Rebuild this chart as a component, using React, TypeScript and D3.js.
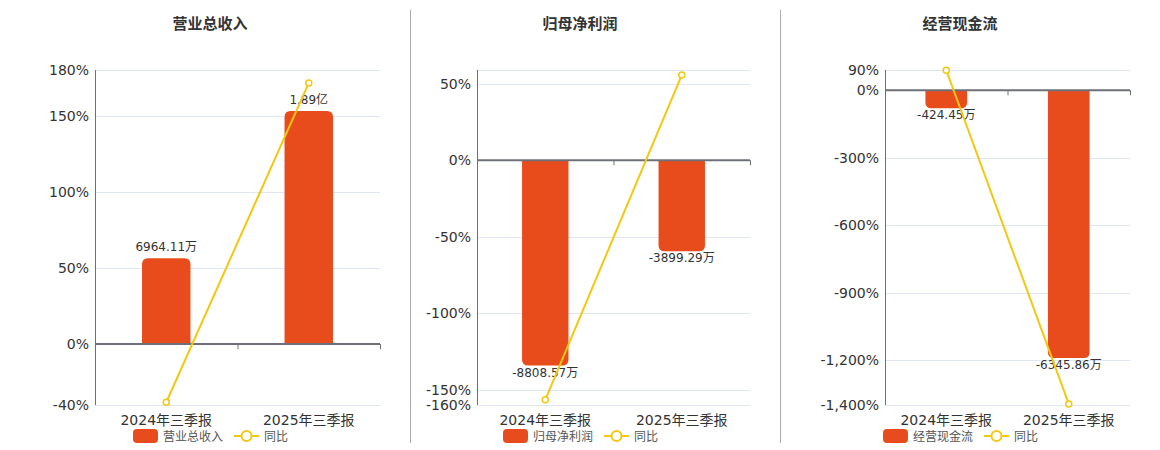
import React from 'react';
import * as d3 from 'd3';

// data
const categories = ['2024年三季报', '2025年三季报'];
const titles = ['营业总收入', '归母净利润', '经营现金流'];
const barValues = [[6964.11, 18900], [-8808.57, -3899.29], [-424.45, -6345.86]];
const barLabels = [['6964.11万', '1.89亿'], ['-8808.57万', '-3899.29万'], ['-424.45万', '-6345.86万']];
const yoyValues = [[-38.2, 171.4], [-156.6, 55.7], [89, -1395]];
const pctDomains = [[-40, 180], [-160, 59], [-1400, 90]];
const pctTicks = [[-40, 0, 50, 100, 150, 180], [-160, -150, -100, -50, 0, 50], [-1400, -1200, -900, -600, -300, 0, 90]];
const barDomains = [[-4940, 22220], [-10500, 3872], [-7460, 480]];

const panels = [
    {x0: 95, x1: 380, cx: 210},
    {x0: 477, x1: 750, cx: 580},
    {x0: 885, x1: 1130, cx: 960},
];
const yTop = 70;
const yBot = 405;

const BAR = '#E84C1D';
const LINE = '#F2C811';
const AXIS = '#6E7079';
const GRID = '#E0E6F1';
const FONT = '"DejaVu Sans", "Noto Sans CJK SC", sans-serif';

const fmtPct = (v: number) => d3.format(',')(v).replace('\u2212', '-') + '%';

function barPath(x: number, w: number, y0: number, y1: number, r: number) {
    const h = Math.abs(y1 - y0);
    r = Math.min(r, h / 2, w / 2);
    if (y1 < y0) {
        return `M${x},${y0}V${y1 + r}Q${x},${y1} ${x + r},${y1}H${x + w - r}Q${x + w},${y1} ${x + w},${y1 + r}V${y0}Z`;
    }
    return `M${x},${y0}V${y1 - r}Q${x},${y1} ${x + r},${y1}H${x + w - r}Q${x + w},${y1} ${x + w},${y1 - r}V${y0}Z`;
}

const Panel = ({i}: {i: number}) => {
    const p = panels[i];
    const x = d3.scaleBand().domain(categories).range([p.x0, p.x1]);
    const y = d3.scaleLinear().domain(pctDomains[i]).range([yBot, yTop]);
    const yb = d3.scaleLinear().domain(barDomains[i]).range([yBot, yTop]);
    const y0 = y(0);
    const bw = x.bandwidth() * 0.34;
    const cxOf = (c: string) => x(c)! + x.bandwidth() / 2;
    const line = d3.line<number>()
        .x((d, k) => cxOf(categories[k]))
        .y(d => y(d));
    const lg = p.cx - 77;

    return (
        <g>
            <text x={p.cx} y={29} textAnchor="middle" fontSize={15} fontWeight="bold" fill="#333">{titles[i]}</text>
            {/* grid */}
            <line x1={p.x0} x2={p.x1} y1={yTop + 0.5} y2={yTop + 0.5} stroke={GRID}/>
            {pctTicks[i].filter(t => t !== 0).map(t => (
                <line key={t} x1={p.x0} x2={p.x1} y1={Math.round(y(t)) + 0.5} y2={Math.round(y(t)) + 0.5} stroke={GRID}/>
            ))}
            {pctTicks[i].map(t => (
                <text key={'l' + t} x={p.x0 - 6} y={y(t)} dy="0.36em" textAnchor="end" fontSize={14} fill="#333">{fmtPct(t)}</text>
            ))}
            <line x1={p.x0 + 0.5} x2={p.x0 + 0.5} y1={yTop} y2={yBot} stroke={AXIS}/>
            {/* bars */}
            {barValues[i].map((v, k) => {
                const c = categories[k];
                const bx = cxOf(c) - bw / 2;
                const by = yb(v);
                return (
                    <g key={c}>
                        <path d={barPath(bx, bw, y0, by, 6)} fill={BAR}/>
                        <text x={cxOf(c)} y={v >= 0 ? by - 7 : by + 11} textAnchor="middle" fontSize={12} fill="#333">{barLabels[i][k]}</text>
                    </g>
                );
            })}
            {/* zero axis */}
            <line x1={p.x0} x2={p.x1} y1={y0} y2={y0} stroke={AXIS} strokeWidth={2}/>
            {categories.map(c => (
                <line key={c} x1={x(c)! + x.bandwidth() + 0.5} x2={x(c)! + x.bandwidth() + 0.5} y1={y0} y2={y0 + 5} stroke={AXIS}/>
            ))}
            {categories.map(c => (
                <text key={'x' + c} x={cxOf(c)} y={425} textAnchor="middle" fontSize={14} fill="#333">{c}</text>
            ))}
            {/* yoy line */}
            <path d={line(yoyValues[i])!} fill="none" stroke={LINE} strokeWidth={2}/>
            {yoyValues[i].map((v, k) => (
                <circle key={k} cx={cxOf(categories[k])} cy={y(v)} r={3} fill="#fff" stroke={LINE} strokeWidth={1.5}/>
            ))}
            {/* legend */}
            <rect x={lg} y={429} width={25} height={14} rx={4} fill={BAR}/>
            <text x={lg + 30} y={441} fontSize={12} fill="#555">{titles[i]}</text>
            <line x1={lg + 101} x2={lg + 126} y1={436} y2={436} stroke={LINE} strokeWidth={2}/>
            <circle cx={lg + 113.5} cy={436} r={5} fill="#fff" stroke={LINE} strokeWidth={2}/>
            <text x={lg + 131} y={441} fontSize={12} fill="#555">同比</text>
        </g>
    );
};

export default function App() {
    return (
        <svg width={1160} height={450} style={{position: 'absolute', left: 0, top: 0, fontFamily: FONT}}>
            <rect width={1160} height={450} fill="#fff"/>
            <line x1={410.5} x2={410.5} y1={10} y2={443} stroke="#aaa"/>
            <line x1={780.5} x2={780.5} y1={10} y2={443} stroke="#aaa"/>
            {titles.map((t, i) => <Panel key={t} i={i}/>)}
        </svg>
    );
}
